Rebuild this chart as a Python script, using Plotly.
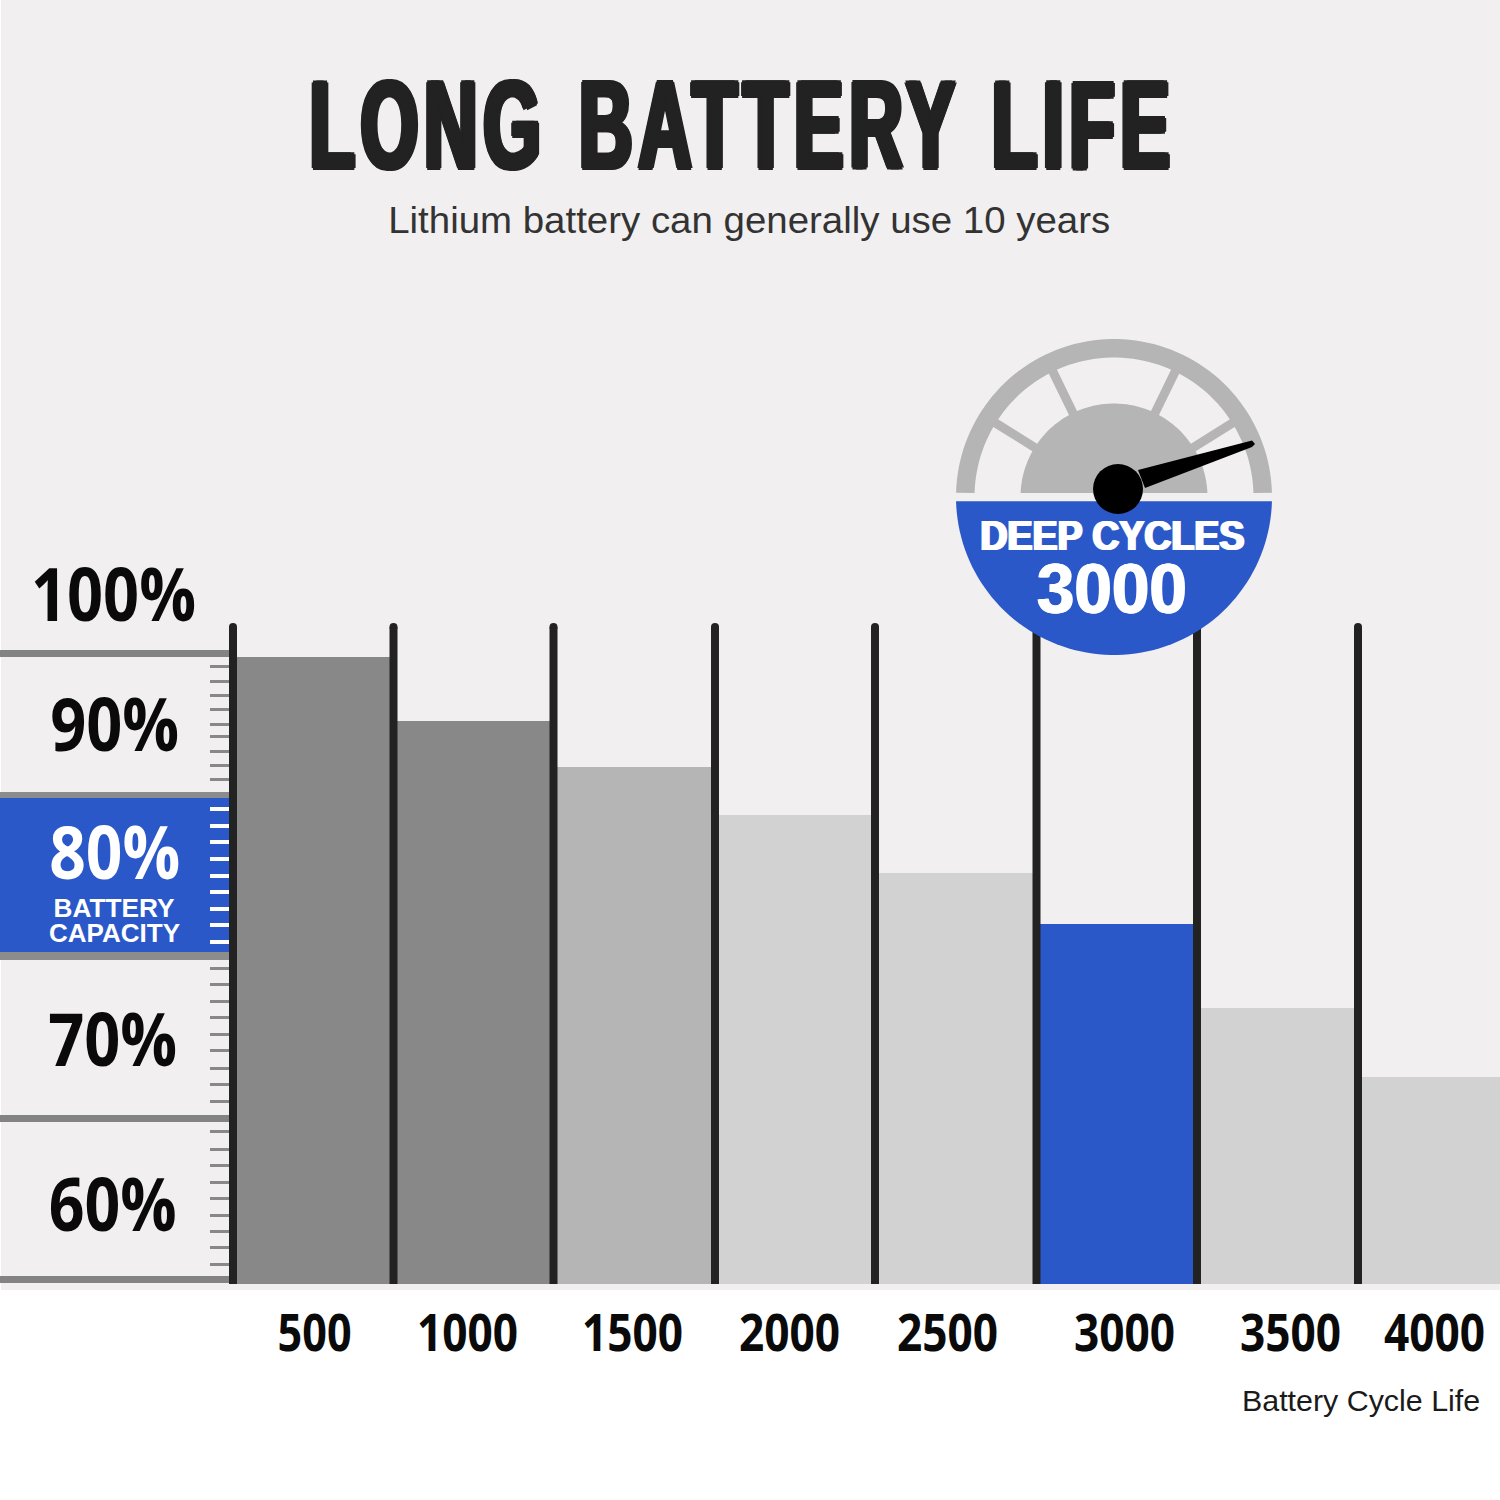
import json

import numpy as np
import plotly.graph_objects as go

# battery cycle life chart
cycle_labels = ["500", "1000", "1500", "2000", "2500", "3000", "3500", "4000"]
capacity = [99.7, 95.6, 92.7, 89.6, 85.9, 82.7, 77.3, 72.9]
bar_colors = ["#888888", "#888888", "#b5b5b5", "#d2d2d2", "#d2d2d2", "#2a58c8", "#d2d2d2", "#d2d2d2"]
pct_labels = ["100%", "90%", "80%", "70%", "60%"]
grey_ticks = [99.06, 98.11, 97.26, 96.35, 95.41, 94.59, 93.65, 92.78, 91.85,
              79.87, 78.82, 77.77, 76.69, 75.63, 74.59, 73.50, 72.45, 71.40,
              69.43, 68.34, 67.32, 66.24, 65.16, 64.14, 63.06, 62.04, 60.96]
white_ticks = [90.02, 88.92, 87.90, 86.82, 85.73, 84.71, 83.63, 82.61, 81.53]

BG = "#f2eff0"
BLUE = "#2a58c8"
GAUGE = "#b5b5b5"
BASE = 59.75
SIZE = 1500


def pct_y(py):
    return 60 + (1280 - py) / 15.7


def fx(px):
    return px / SIZE


def fy(py):
    return 1 - py / SIZE


def poly(points):
    d = "M " + " L ".join(f"{fx(x):.5f},{fy(y):.5f}" for x, y in points) + " Z"
    return dict(type="path", xref="paper", yref="paper", path=d, line_width=0)


def rect(x0, y0, x1, y1, color, layer="above"):
    return dict(type="rect", xref="paper", yref="paper", x0=fx(x0), x1=fx(x1), y0=fy(y0), y1=fy(y1),
                fillcolor=color, line_width=0, layer=layer)


def arc(cx, cy, r, a0, a1, n=80):
    a = np.radians(np.linspace(a0, a1, n))
    return list(zip(cx + r * np.cos(a), cy - r * np.sin(a)))


fig = go.Figure()
fig.add_trace(go.Bar(
    x=list(range(len(capacity))),
    y=np.array(capacity) - BASE,
    base=BASE,
    width=1,
    marker=dict(color=bar_colors, line_width=0),
    hoverinfo="skip",
    showlegend=False,
))
# dummy trace so the white tick axis gets drawn
fig.add_trace(go.Scatter(x=[None], y=[None], yaxis="y2", showlegend=False, hoverinfo="skip"))

shapes = [
    rect(1, 0, 1500, 1290, BG, "below"),
    rect(0, 798, 229, 952, BLUE, "below"),
]
for y0, y1, col in [(650, 657, "#838383"), (792, 798, "#8c8c8c"), (952, 960, "#8c8c8c"),
                    (1115, 1122, "#838383"), (1276, 1283, "#838383")]:
    shapes.append(rect(0, y0, 229, y1, col, "below"))

# separators between the bars
for sx in [233, 393.5, 553.5, 715, 875, 1036.5, 1197, 1358]:
    shapes.append(rect(sx - 4, 627, sx + 4, 1284, "#222222"))
    shapes.append(dict(type="circle", xref="paper", yref="paper", x0=fx(sx - 4), x1=fx(sx + 4),
                       y0=fy(631), y1=fy(623), fillcolor="#222222", line_width=0))

# gauge badge
cx, cy = 1114, 497
for ang in [32, 64, 116, 148]:
    a = np.radians(ang)
    shapes.append(dict(type="line", xref="paper", yref="paper",
                       x0=fx(cx + 85 * np.cos(a)), y0=fy(cy - 85 * np.sin(a)),
                       x1=fx(cx + 148 * np.cos(a)), y1=fy(cy - 148 * np.sin(a)),
                       line=dict(color=GAUGE, width=9)))
ring = arc(cx, cy, 158, 1.5, 178.5) + arc(cx, cy, 139.5, 178.4, 1.6)
shapes.append({**poly(ring), "fillcolor": GAUGE})
shapes.append({**poly(arc(cx, cy, 93.5, 2.5, 177.5)), "fillcolor": GAUGE})
shapes.append({**poly(arc(cx, cy, 158, -1.5, -178.5)), "fillcolor": BLUE})
shapes.append({**poly([(1138, 470), (1252, 440.5), (1255, 444), (1252, 447), (1145, 488)]), "fillcolor": "#000000"})
shapes.append(dict(type="circle", xref="paper", yref="paper", x0=fx(1093), x1=fx(1143),
                   y0=fy(514), y1=fy(464), fillcolor="#000000", line_width=0))

# target widths in pixels, one per annotation, squeezes the installed fonts to the original proportions
text_widths = []


def label(text, px, py, size, color="#111111", family="Open Sans", bold=True, shadow=None, width=None):
    font = dict(family=family, size=size, color=color, weight=700 if bold else 400)
    if shadow:
        font["shadow"] = shadow
    text_widths.append(width)
    return dict(text=text, x=fx(px), y=fy(py), xref="paper", yref="paper", showarrow=False,
                xanchor="center", yanchor="middle", font=font)


annotations = [
    label("LONG BATTERY LIFE", 742, 124, 125, "#222222", "Liberation Sans",
          shadow="5px 0 #222222, -5px 0 #222222, 3px 2px #222222, -3px -2px #222222, 3px -2px #222222, -3px 2px #222222",
          width=866),
    label("Lithium battery can generally use 10 years", 749, 220, 36, "#333333", "Liberation Sans", False, width=722),
    label("BATTERY", 114, 908, 26, "#ffffff", "Liberation Sans", width=121),
    label("CAPACITY", 114, 933, 26, "#ffffff", "Liberation Sans", width=131),
    label("DEEP CYCLES", 1112, 535, 43, "#ffffff", "Liberation Sans",
          shadow="1.5px 0 #ffffff, -1.5px 0 #ffffff", width=264),
    label("3000", 1112, 589, 70, "#ffffff", "Liberation Sans",
          shadow="1px 0 #ffffff, -1px 0 #ffffff", width=150),
    label("Battery Cycle Life", 1361, 1400, 30.4, "#1a1a1a", "Liberation Sans", False),
]
pct_widths = [165, 129, 131, 129, 128]
for text, px, py, w in zip(pct_labels, [113, 114, 114, 112, 112], [592, 722, 850, 1037, 1202], pct_widths):
    col = "#ffffff" if text == "80%" else "#0a0a0a"
    annotations.append(label(text, px, py, 73, col, width=w))
for text, px in zip(cycle_labels, [314, 467, 632, 789, 947, 1124, 1290, 1434]):
    annotations.append(label(text, px, 1330, 52, "#0a0a0a", width=74 if text == "500" else 101))

y_range = [pct_y(1500), pct_y(0)]
tick_pos = fx(229)

fig.update_layout(
    width=1500, height=1500,
    margin=dict(l=0, r=0, t=0, b=0),
    paper_bgcolor="#ffffff",
    plot_bgcolor="rgba(0,0,0,0)",
    bargap=0,
    xaxis=dict(range=[-313.5 / 161, (1500 - 313.5) / 161], visible=False, fixedrange=True),
    yaxis=dict(range=y_range, anchor="free", position=tick_pos, tickmode="array", tickvals=grey_ticks,
               ticks="outside", ticklen=19, tickwidth=3, tickcolor="#888888", showticklabels=False,
               showgrid=False, zeroline=False, showline=False, fixedrange=True),
    yaxis2=dict(range=y_range, overlaying="y", anchor="free", position=tick_pos, side="left", tickmode="array",
                tickvals=white_ticks, ticks="outside", ticklen=19, tickwidth=4, tickcolor="#ffffff",
                showticklabels=False, showgrid=False, zeroline=False, showline=False, fixedrange=True),
    shapes=shapes,
    annotations=annotations,
)

# drop the page margin and fit the annotation texts to their widths
post_script = """
document.body.style.margin = '0';
var widths = %s;
document.querySelectorAll('.annotation-text').forEach(function (t, i) {
    if (i === 0) {
        t.style.letterSpacing = '10px';
        t.style.wordSpacing = '10px';
    }
    if (widths[i]) {
        t.setAttribute('textLength', widths[i]);
        t.setAttribute('lengthAdjust', 'spacingAndGlyphs');
    }
});
""" % json.dumps(text_widths)

fig.write_html("out.html", post_script=post_script, config={"displayModeBar": False})
